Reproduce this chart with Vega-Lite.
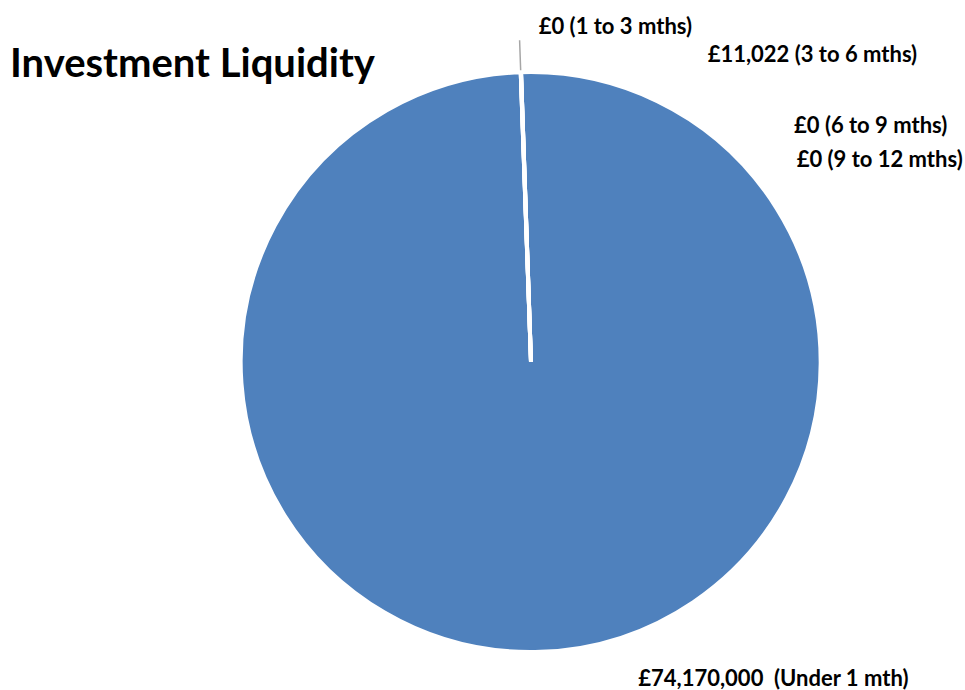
{
  "$schema": "https://vega.github.io/schema/vega-lite/v6.json",
  "width": 868,
  "height": 656,
  "autosize": {"type": "none"},
  "padding": {"left": 97, "top": 34, "right": 0, "bottom": 0},
  "background": "white",
  "title": {
    "text": "Investment Liquidity",
    "anchor": "start",
    "frame": "group",
    "dx": -87,
    "dy": 101,
    "offset": 0,
    "baseline": "alphabetic",
    "font": "Lato",
    "fontSize": 40,
    "fontWeight": "bold",
    "color": "black"
  },
  "config": {"view": {"stroke": null}},
  "data": {
    "values": [
      {"period": "Under 1 mth", "value": 74170000, "order": 1, "label": "£74,170,000\u00a0 (Under 1 mth)"},
      {"period": "1 to 3 mths", "value": 0, "order": 2, "label": "£0 (1 to 3 mths)"},
      {"period": "3 to 6 mths", "value": 11022, "order": 3, "label": "£11,022 (3 to 6 mths)"},
      {"period": "6 to 9 mths", "value": 0, "order": 4, "label": "£0 (6 to 9 mths)"},
      {"period": "9 to 12 mths", "value": 0, "order": 5, "label": "£0 (9 to 12 mths)"}
    ]
  },
  "transform": [
    {"stack": "value", "groupby": [], "sort": [{"field": "order", "order": "ascending"}], "as": ["v0", "v1"]}
  ],
  "encoding": {
    "theta": {"field": "v0", "type": "quantitative", "scale": {"range": [-0.0345, 6.2487]}},
    "theta2": {"field": "v1"}
  },
  "layer": [
    {"mark": {"type": "arc", "outerRadius": 290, "fill": "#4F81BD", "stroke": "white", "strokeWidth": 4}},
    {
      "transform": [{"filter": "datum.period === '1 to 3 mths'"}],
      "mark": {"type": "arc", "outerRadius": 322, "innerRadius": 292, "fill": null, "stroke": "#A6A6A6", "strokeWidth": 1.5}
    },
    {
      "transform": [{"filter": "datum.period === '1 to 3 mths'"}],
      "mark": {"type": "text", "radius": 300, "dx": 95, "dy": -35, "align": "center", "baseline": "middle", "font": "Lato", "fontSize": 22, "fontWeight": "bold", "color": "black"},
      "encoding": {"text": {"field": "label"}}
    },
    {
      "transform": [{"filter": "datum.period === '3 to 6 mths'"}],
      "mark": {"type": "text", "radius": 300, "dx": 292, "dy": -7, "align": "center", "baseline": "middle", "font": "Lato", "fontSize": 22, "fontWeight": "bold", "color": "black"},
      "encoding": {"text": {"field": "label"}}
    },
    {
      "transform": [{"filter": "datum.period === '6 to 9 mths'"}],
      "mark": {"type": "text", "radius": 300, "dx": 350, "dy": 64, "align": "center", "baseline": "middle", "font": "Lato", "fontSize": 22, "fontWeight": "bold", "color": "black"},
      "encoding": {"text": {"field": "label"}}
    },
    {
      "transform": [{"filter": "datum.period === '9 to 12 mths'"}],
      "mark": {"type": "text", "radius": 300, "dx": 359, "dy": 98, "align": "center", "baseline": "middle", "font": "Lato", "fontSize": 22, "fontWeight": "bold", "color": "black"},
      "encoding": {"text": {"field": "label"}}
    },
    {
      "transform": [{"filter": "datum.period === 'Under 1 mth'"}],
      "mark": {"type": "text", "radius": -300, "dx": 232, "dy": 17, "align": "center", "baseline": "middle", "font": "Lato", "fontSize": 22, "fontWeight": "bold", "color": "black"},
      "encoding": {"text": {"field": "label"}}
    }
  ]
}
